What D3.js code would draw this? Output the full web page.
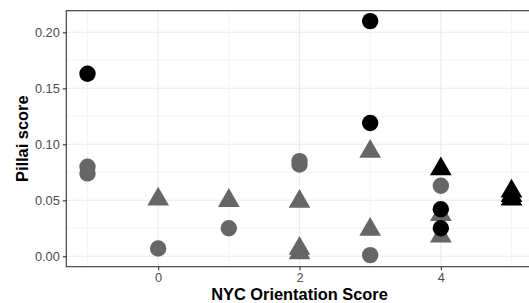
<!DOCTYPE html>
<html>
<head>
<meta charset="utf-8">
<script src="https://cdn.jsdelivr.net/npm/d3@7"></script>
<style>
  body { margin: 0; background: #fff; }
  svg { display: block; font-family: "Liberation Sans", Arial, sans-serif; }
</style>
</head>
<body>
<div id="chart"></div>
<script>
// orientation score of each point
var scores = [-1, -1, -1, 0, 0, 1, 1, 2, 2, 2, 2, 2, 3, 3, 3, 3, 3, 4, 4, 4, 4, 4, 4, 5, 5, 5];
// pillai scores
var pillai = [0.080, 0.074, 0.163, 0.051, 0.007, 0.0497, 0.025, 0.085, 0.082, 0.049, 0.007, 0.003,
  0.0935, 0.024, 0.001, 0.119, 0.210, 0.063, 0.037, 0.018, 0.078, 0.042, 0.025, 0.058, 0.054, 0.051];
var shapes = ["circle", "circle", "circle", "triangle", "circle", "triangle", "circle", "circle", "circle", "triangle", "triangle", "triangle",
  "triangle", "triangle", "circle", "circle", "circle", "circle", "triangle", "triangle", "triangle", "circle", "circle", "triangle", "triangle", "triangle"];
var groups = ["g", "g", "b", "g", "g", "g", "g", "g", "g", "g", "g", "g",
  "g", "g", "g", "b", "b", "g", "g", "g", "b", "b", "b", "b", "b", "b"];
var xTicks = [0, 2, 4];
var yTicks = [0, 0.05, 0.10, 0.15, 0.20];

(function() {
var W = 529, H = 303;
var svg = d3.select("#chart").append("svg").attr("width", W).attr("height", H);

var x = d3.scaleLinear().domain([-1.3, 5.3]).range([66.3, 532.7]);
var y = d3.scaleLinear().domain([-0.0093, 0.2193]).range([266.7, 10.7]);

var pLeft = x(-1.3), pRight = x(5.3), pTop = y(0.2193), pBottom = y(-0.0093);

// grid
var grid = svg.append("g");
var minorX = [-1, 1, 3, 5], minorY = [0.025, 0.075, 0.125, 0.175];
grid.selectAll("line.mx").data(minorX).enter().append("line")
  .attr("x1", function(d) { return x(d); }).attr("x2", function(d) { return x(d); })
  .attr("y1", pTop).attr("y2", pBottom).attr("stroke", "#ebebeb").attr("stroke-width", 0.55);
grid.selectAll("line.my").data(minorY).enter().append("line")
  .attr("y1", function(d) { return y(d); }).attr("y2", function(d) { return y(d); })
  .attr("x1", pLeft).attr("x2", pRight).attr("stroke", "#ebebeb").attr("stroke-width", 0.55);
grid.selectAll("line.gx").data(xTicks).enter().append("line")
  .attr("x1", function(d) { return x(d); }).attr("x2", function(d) { return x(d); })
  .attr("y1", pTop).attr("y2", pBottom).attr("stroke", "#ebebeb").attr("stroke-width", 1.1);
grid.selectAll("line.gy").data(yTicks).enter().append("line")
  .attr("y1", function(d) { return y(d); }).attr("y2", function(d) { return y(d); })
  .attr("x1", pLeft).attr("x2", pRight).attr("stroke", "#ebebeb").attr("stroke-width", 1.1);

// points, grey first so black sits on top
var data = scores.map(function(s, i) {
  return {x: s, y: pillai[i], shape: shapes[i], group: groups[i]};
});
data.sort(function(a, b) { return (a.group === "b") - (b.group === "b"); });
var tri = d3.symbol().type(d3.symbolTriangle).size(204);
var circ = d3.symbol().type(d3.symbolCircle).size(Math.PI * 8.2 * 8.2);
svg.append("g").selectAll("path").data(data).enter().append("path")
  .attr("transform", function(d) { return "translate(" + x(d.x) + "," + y(d.y) + ")"; })
  .attr("d", function(d) { return d.shape === "circle" ? circ() : tri(); })
  .attr("fill", function(d) { return d.group === "b" ? "#000000" : "#666666"; });

// panel border
svg.append("rect").attr("x", pLeft).attr("y", pTop)
  .attr("width", pRight - pLeft).attr("height", pBottom - pTop)
  .attr("fill", "none").attr("stroke", "#333333").attr("stroke-width", 1.1);

// axes
var xAxis = svg.append("g").attr("transform", "translate(0," + pBottom + ")")
  .call(d3.axisBottom(x).tickValues(xTicks).tickSize(3.5).tickPadding(3).tickFormat(d3.format("d")));
var yAxis = svg.append("g").attr("transform", "translate(" + pLeft + ",0)")
  .call(d3.axisLeft(y).tickValues(yTicks).tickSize(3.5).tickPadding(3).tickFormat(d3.format(".2f")));
[xAxis, yAxis].forEach(function(a) {
  a.select(".domain").remove();
  a.selectAll(".tick line").attr("stroke", "#333333").attr("stroke-width", 1.1);
  a.selectAll(".tick text").attr("fill", "#4d4d4d").style("font-size", "12.8px")
    .style("font-family", "'Liberation Sans', Arial, sans-serif");
});

svg.append("text").attr("x", (pLeft + pRight) / 2).attr("y", 300)
  .attr("text-anchor", "middle").style("font-weight", "bold").style("font-size", "16.4px")
  .text("NYC Orientation Score");
svg.append("text").attr("transform", "translate(27.5," + ((pTop + pBottom) / 2) + ") rotate(-90)")
  .attr("text-anchor", "middle").style("font-weight", "bold").style("font-size", "16.4px")
  .text("Pillai score");
})();
</script>
</body>
</html>
